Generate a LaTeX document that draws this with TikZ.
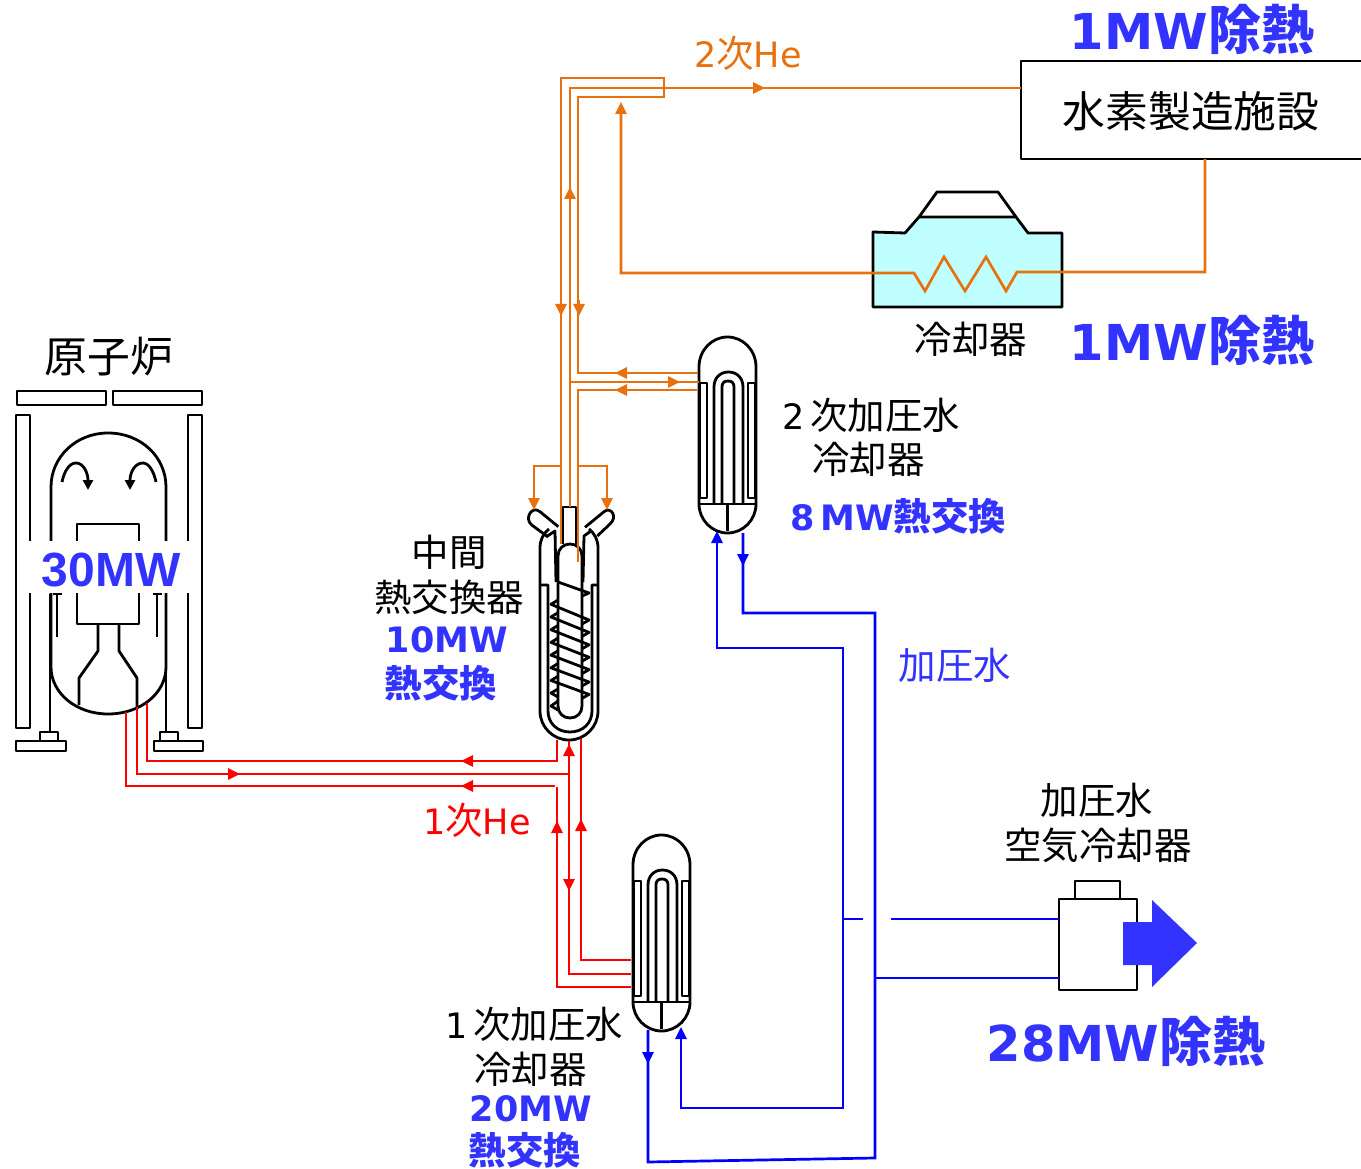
\documentclass[tikz,border=0pt]{standalone}
\usepackage{fontspec}
\setmainfont{DejaVu Sans}
\newfontfamily\jpf[Scale=1.07]{Noto Sans CJK JP}
\newfontfamily\arialf{Liberation Sans}
\newcommand{\jp}[1]{{\jpf #1}}
\usetikzlibrary{arrows.meta, positioning, calc}
\definecolor{heatblue}{HTML}{3333FF}
\definecolor{hetwo}   {HTML}{E8710F}
\definecolor{heone}   {HTML}{FF0000}
\definecolor{water}   {HTML}{0000FF}
\definecolor{pool}    {HTML}{BFFFFF}
\tikzset{
  ln/.style={draw=black, line width=2.8pt, line join=round},
  twopipe/.style={draw=hetwo, line width=2.7pt},
  onepipe/.style={draw=heone, line width=2.7pt},
  waterpipe/.style={draw=water, line width=2.7pt},
  lab/.style={inner sep=0pt, font=\fontsize{35}{35}\selectfont},
  biglab/.style={inner sep=0pt, font=\fontsize{40}{40}\selectfont},
  heatlab/.style={inner sep=0pt, text=heatblue, font=\fontsize{35}{35}\selectfont\bfseries},
  bigheat/.style={inner sep=0pt, text=heatblue, font=\fontsize{49.5}{50}\selectfont\bfseries},
  tip/.style={-{Triangle[length=12pt,width=11pt]}},
  uvessel/.pic={
    \draw[ln] (0,30) .. controls (0,13) and (13,0) .. (28.5,0) .. controls (44,0) and (57,13) .. (57,30)
      -- (57,167) .. controls (57,183) and (44,196) .. (28.5,196) .. controls (13,196) and (0,183) .. (0,167) -- cycle;
    \draw[ln] (0,167) -- (57,167) (28.5,167) -- (28.5,194);
    \draw[ln] (1,46) rectangle (8,161) (49,46) rectangle (56,161);
    \draw[ln] (15,167) -- (15,50) .. controls (15,41) and (21,35) .. (29.5,35) .. controls (38,35) and (44,41) .. (44,50) -- (44,167);
    \draw[ln] (23,167) -- (23,50) .. controls (23,46) and (25,44) .. (29,44) .. controls (33,44) and (35,46) .. (35,50) -- (35,167);
  }
}
\begin{document}
\begin{tikzpicture}[x=1pt,y=-1pt]
\useasboundingbox (0,0) rectangle (1361,1169);

% reactor
\foreach \xa/\ya/\xb/\yb in {17/391/106/405, 113/391/202/405, 16/415/30/728, 188/415/202/728,
    40/732/58/741, 16/741/66/751, 160/732/178/741, 154/741/203/751}
  \draw[ln] (\xa,\ya) rectangle (\xb,\yb);
\draw[ln] (51,487) .. controls (51,457) and (76,433) .. (108,433) .. controls (141,433) and (166,457) .. (166,487)
  -- (166,667) .. controls (166,693) and (141,714) .. (108,714) .. controls (76,714) and (51,693) .. (51,667) -- cycle;
\draw[ln] (77,624) rectangle (139,524);
\draw[ln] (98,624) -- (98,651) -- (79,678) -- (79,705);
\draw[ln] (119,624) -- (119,651) -- (137,678) -- (137,707);
\draw[ln] (50,594) -- (50,732) (166,594) -- (166,732);
\draw[ln] (57,594) -- (57,637) (157,594) -- (157,637);
\draw[ln] (53,594) -- (62,594) (153,594) -- (162,594);
\draw[ln,-{Triangle[length=10pt,width=10pt]}] (62,482) .. controls (64,472) and (69,463) .. (76,463) .. controls (83,463) and (88,472) .. (88,490);
\draw[ln,-{Triangle[length=10pt,width=10pt]}] (156,482) .. controls (154,472) and (149,463) .. (143,463) .. controls (135,463) and (130,472) .. (130,490);
\fill[white] (21,541) rectangle (197,593);
\node[inner sep=0pt, text=heatblue, font=\arialf\fontsize{48}{48}\selectfont\bfseries] (corepower) at (111,570) {30MW};
\node[biglab] (reactorlab) at (109,357) {\jp{原子炉}};

% intermediate heat exchanger
\draw[ln] (558.3,526.7) -- (540,511.7) .. controls (532,505.1) and (523.7,518.4) .. (531.7,525) -- (546.7,536);
\draw[ln] (585,527.3) -- (604,511.7) .. controls (611,506) and (618,517) .. (610,524) -- (597.3,536);
\draw[ln] (549,529) .. controls (543,534) and (540,540) .. (540,548) -- (540,711)
  .. controls (540,727) and (553,740) .. (569,740) .. controls (585,740) and (598,727) .. (598,711)
  -- (598,548) .. controls (598,540) and (595,534) .. (589,529);
\draw[ln] (540,585) -- (548,585) -- (548,711) .. controls (548,723) and (557,732) .. (570,732)
  .. controls (583,732) and (592,723) .. (592,711) -- (592,585) -- (598,585);
\draw[ln] (546,537) -- (555,531) -- (556,582);
\draw[ln] (591,531) -- (584,536) -- (583,582);
\draw[ln] (558,556) .. controls (558,549) and (563,544) .. (570,544) .. controls (577,544) and (582,549) .. (582,556)
  -- (582,706) .. controls (582,713) and (577,718) .. (570,718) .. controls (563,718) and (558,713) .. (558,706) -- cycle;
\draw[ln] (563,544) -- (563,507) -- (576,507) -- (576,544);
\draw[ln] (558,582) -- (589,593) -- (582,596);
\foreach \i in {0,...,6}
  \draw[ln] ({558},{600+12.7*\i}) -- ({551},{604.3+12.7*\i}) -- ({589},{620+12.4*\i}) -- ({582},{624+12.4*\i});
\draw[ln] (558,689) -- (551,693) -- (558,697) (558,701) -- (551,706) -- (558,710);

% coolers
\pic at (699,337) {uvessel};
\pic at (633,835) {uvessel};

% air cooler and water cooler
\draw[ln] (1059,899) rectangle (1137,990) (1075,899) -- (1075,881) -- (1120,881) -- (1120,899);
\draw[ln, fill=pool] (873,232) -- (905,233) -- (919,217) -- (1016,217) -- (1028,233) -- (1062,233) -- (1062,307) -- (873,307) -- cycle;
\draw[ln] (919,217) -- (937,192) -- (998,192) -- (1016,217);
\fill[heatblue] (1123,922) -- (1152,922) -- (1152,900) -- (1197,943) -- (1152,987) -- (1152,965) -- (1123,965) -- cycle;

% hydrogen plant
\draw[ln] (1361,61) -- (1021,61) -- (1021,159) -- (1361,159);
\node[biglab] (hplant) at (1191,111) {\jp{水素製造施設}};
\coordinate (hin) at (1021,88);
\coordinate (hout) at (1205,159);

% secondary helium
\coordinate (coilin) at (1017,272);
\coordinate (coilout) at (914,273);
\draw[twopipe] (hin) -- (570,88) -- (570,507);
\draw[twopipe] (561,544) -- (561,78) -- (664,78) -- (664,97) -- (578,97) -- (578,373) -- (698,373);
\draw[twopipe] (578,562) -- (578,390) -- (697,390);
\draw[twopipe] (570,382) -- (699,382);
\draw[twopipe] (hout) |- (coilin) -- (1006,291) -- (986,257) -- (965,291) -- (944,257) -- (925,291) -- (coilout) -- (621,273) -- (621,112);
\draw[twopipe,tip] (561,466) -| (534,510);
\draw[twopipe,tip] (578,466) -| (607,510);
\foreach \xa/\ya/\xb/\yb in {621/115/621/102, 750/88/765/88, 570/200/570/187, 561/300/561/316, 579/300/579/316,
    630/373/615/373, 665/382/680/382, 630/390/615/390}
  \draw[twopipe,tip] (\xa,\ya) -- (\xb,\yb);

% primary helium
\draw[onepipe] (147,703) |- (557,761) -- (557,740);
\draw[onepipe] (137,707) |- (569,774);
\draw[onepipe] (126,712) |- (555,786);
\draw[onepipe] (557,787) |- (631,987);
\draw[onepipe] (569,741) |- (631,974);
\draw[onepipe] (581,739) |- (631,960);
\foreach \xa/\ya/\xb/\yb in {475/761/461/761, 225/774/240/774, 475/786/461/786, 569/760/569/744,
    557/835/557/821, 581/835/581/819, 569/875/569/891}
  \draw[onepipe,tip] (\xa,\ya) -- (\xb,\yb);

% pressurized water
\draw[waterpipe] (743,533) |- (875,613) -- (875,1158) -- (648,1162) -- (648,1030);
\draw[waterpipe] (717,540) |- (843,648) -- (843,1108) -| (681,1035);
\draw[waterpipe] (843,919) -- (863,919) (891,919) -- (1059,919);
\draw[waterpipe] (875,978) -- (1059,978);
\foreach \xa/\ya/\xb/\yb in {717/545/717/531, 743/552/743/566, 681/1040/681/1027, 648/1050/648/1064}
  \draw[waterpipe,tip] (\xa,\ya) -- (\xb,\yb);

% labels
\node[bigheat] (heattop) at (1192,29) {1MW\jp{除熱}};
\node[bigheat] (heatcool) at (1192,340) {1MW\jp{除熱}};
\node[bigheat] (heatair) at (1126,1041) {28MW\jp{除熱}};
\node[lab, text=hetwo] (helium2) at (748,53.5) {2\jp{次}He};
\node[lab, text=heone] (helium1) at (477,820.5) {1\jp{次}He};
\node[lab, text=heatblue] (waterlab) at (955,665) {\jp{加圧水}};
\node[lab] (coollab) at (971,339) {\jp{冷却器}};
\node[lab, anchor=west] (sec1) at (782,415) {2\hspace{6pt}\jp{次加圧水}};
\node[lab, anchor=west] (sec2) at (812,459) {\jp{冷却器}};
\node[heatlab, anchor=west] (secheat) at (790,516) {8\hspace{6pt}MW\jp{熱交換}};
\node[lab] (ihx1) at (449,552) {\jp{中間}};
\node[lab] (ihx2) at (449,597) {\jp{熱交換器}};
\node[heatlab] (ihxheat) at (447,640) {10MW};
\node[heatlab] (ihxheatb) at (441,683) {\jp{熱交換}};
\node[lab, anchor=west] (pri1) at (445,1024) {1\hspace{6pt}\jp{次加圧水}};
\node[lab, anchor=west] (pri2) at (474,1069) {\jp{冷却器}};
\node[heatlab] (priheat) at (531,1109) {20MW};
\node[heatlab] (priheatb) at (525,1150.5) {\jp{熱交換}};
\node[lab] (air1) at (1097,800) {\jp{加圧水}};
\node[lab] (air2) at (1098,845) {\jp{空気冷却器}};
\end{tikzpicture}
\end{document}
